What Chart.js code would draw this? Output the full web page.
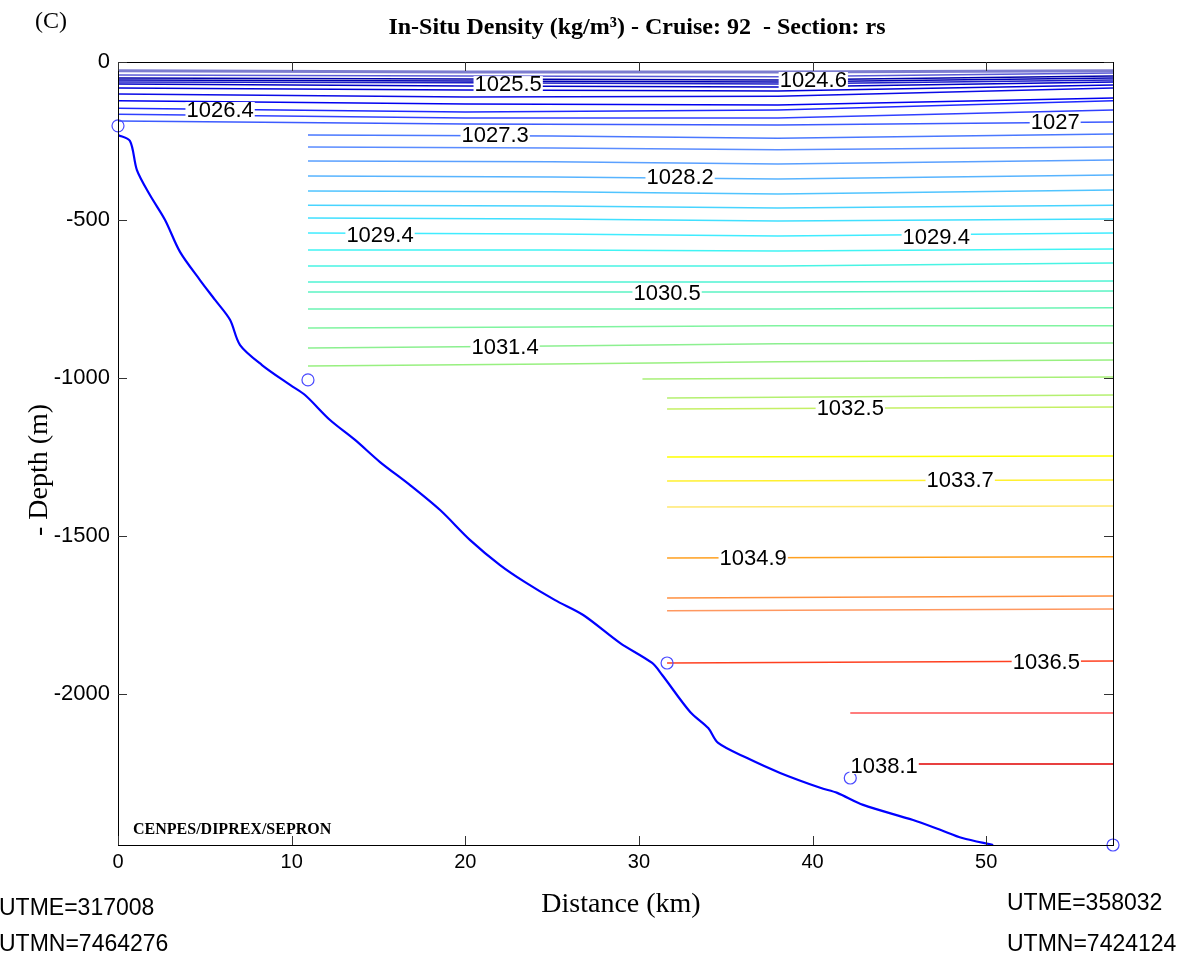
<!DOCTYPE html>
<html>
<head>
<meta charset="utf-8">
<script src="https://cdn.jsdelivr.net/npm/chart.js@4.4.1/dist/chart.umd.min.js"></script>
<style>
  html, body { margin: 0; padding: 0; background: #fff; }
  canvas { display: block; }
</style>
</head>
<body>
<canvas id="section" width="1196" height="959"></canvas>
<script>
// axis extents (km, m)
const xMax = 57.3;
const yMin = -2478;
const xTicks = [0, 10, 20, 30, 40, 50];
const yTicks = [0, -500, -1000, -1500, -2000];

// bathymetry profile (distance km, depth m)
const bottomX = [0, 0.69, 1.09, 1.84, 2.71, 3.57, 4.72, 5.59, 6.45, 7.03, 8.29, 9.91, 10.77, 12.21, 13.65, 15.09, 16.82, 18.55, 20.28, 22.0, 23.44, 25.17, 26.79, 28.92, 30.76, 31.34, 32.95, 33.99, 34.56, 36.23, 38.13, 40.44, 41.42, 42.91, 45.79, 47.35, 48.62, 50.4];
const bottomDepth = [-231, -250, -342, -421, -500, -601, -690, -753, -816, -896, -959, -1022, -1054, -1133, -1196, -1266, -1339, -1418, -1513, -1592, -1646, -1703, -1750, -1839, -1902, -1940, -2057, -2108, -2155, -2203, -2250, -2297, -2313, -2351, -2399, -2430, -2456, -2478];

// CTD stations
const stationX = [0, 10.94, 31.62, 42.17, 57.3];
const stationDepth = [-202, -1006, -1902, -2266, -2478];

// upper contours, full width
const topX = [0, 20, 38, 57.3];
const topDepths = [
    [-28, -32, -32, -28],
    [-41, -44, -47, -35],
    [-51, -54, -57, -44],
    [-57, -60, -63, -51],
    [-63, -66, -70, -57],
    [-70, -76, -79, -63],
    [-82, -89, -92, -73],
    [-101, -111, -108, -82],
    [-123, -133, -136, -114],
    [-146, -158, -152, -123],
    [-165, -177, -177, -152],
    [-187, -196, -199, -190]
];
const topColors = ['#7c7cd0', '#5a5ad8', '#0000a8', '#0000b4', '#1e1ec8', '#0000c8', '#0000d8', '#0a0ae6', '#0000f0', '#1e28ff', '#3040ff', '#3c5aff'];

// contours starting at station 2
const midX = [10.94, 25, 38, 57.3];
const midDepths = [
    [-231, -234, -241, -228],
    [-269, -272, -278, -269],
    [-313, -316, -323, -310],
    [-361, -364, -370, -358],
    [-408, -411, -418, -405],
    [-453, -456, -462, -453],
    [-494, -497, -503, -497],
    [-541, -544, -551, -541],
    [-595, -595, -598, -592],
    [-646, -646, -646, -636],
    [-696, -696, -696, -693],
    [-728, -728, -728, -725],
    [-782, -782, -782, -778],
    [-842, -839, -835, -835],
    [-905, -899, -892, -889],
    [-962, -956, -949, -943]
];
const midColors = ['#4a78ff', '#5a8cff', '#5aa0ff', '#58b4ff', '#50c4ff', '#48d4ff', '#40e0ff', '#40ecff', '#40f4f4', '#48f4e4', '#50f4d4', '#5cf4c4', '#6cf4b4', '#80f4a0', '#8cf090', '#98f080'];

// deep contours, from station 3 / 4 to the end
const deepStart = [30.2, 31.62, 31.62, 31.62, 31.62, 31.62, 31.62, 31.62, 31.62, 31.62, 42.17, 42.17];
const deepLeft = [-1003, -1063, -1098, -1250, -1326, -1408, -1570, -1696, -1737, -1902, -2060, -2222];
const deepRight = [-997, -1054, -1092, -1247, -1323, -1405, -1566, -1690, -1731, -1896, -2060, -2222];
const deepColors = ['#a8f078', '#b4f070', '#c4f064', '#ffff00', '#fff030', '#ffe870', '#ffa020', '#ff9040', '#ff9860', '#ff4020', '#ff5050', '#e00000'];

// contour labels
const labelText = ['1025.5', '1024.6', '1026.4', '1027.3', '1027', '1028.2', '1029.4', '1029.4', '1030.5', '1031.4', '1032.5', '1033.7', '1034.9', '1036.5', '1038.1'];
const labelX = [22.47, 40.04, 5.88, 21.72, 53.97, 32.37, 15.09, 47.12, 31.62, 22.29, 42.17, 48.5, 36.58, 53.46, 44.12];
const labelDepth = [-70, -57, -152, -231, -190, -364, -547, -554, -731, -902, -1095, -1323, -1570, -1899, -2228];

function contourSet(xs, depths, color, width) {
    return {
        data: xs.map((x, i) => ({ x: x, y: depths[i] })),
        borderColor: color,
        borderWidth: width,
        showLine: true,
        pointRadius: 0,
        tension: 0,
        order: 3
    };
}

const datasets = [];
topDepths.forEach((d, i) => datasets.push(contourSet(topX, d, topColors[i], i === 0 ? 3 : 1.5)));
midDepths.forEach((d, i) => datasets.push(contourSet(midX, d, midColors[i], 1.5)));
deepLeft.forEach((d, i) => datasets.push(contourSet([deepStart[i], xMax], [d, deepRight[i]], deepColors[i], 1.5)));

datasets.push({
    data: bottomX.map((x, i) => ({ x: x, y: bottomDepth[i] })),
    borderColor: '#0000ff',
    borderWidth: 2.2,
    showLine: true,
    pointRadius: 0,
    tension: 0.3,
    order: 1
});
datasets.push({
    data: stationX.map((x, i) => ({ x: x, y: stationDepth[i] })),
    showLine: false,
    pointRadius: 6,
    pointBorderWidth: 1.2,
    pointBorderColor: '#4a4aff',
    pointBackgroundColor: 'rgba(0,0,0,0)',
    clip: false,
    order: 0
});

const sans = '"Liberation Sans", Arial, sans-serif';
const serif = '"Liberation Serif", "Times New Roman", serif';

// contour labels sit on their line, with a white gap behind
const labelPlugin = {
    id: 'contourLabels',
    afterDatasetsDraw(chart) {
        const ctx = chart.ctx;
        const xs = chart.scales.x, ys = chart.scales.y;
        ctx.save();
        ctx.font = '22px ' + sans;
        ctx.textAlign = 'center';
        ctx.textBaseline = 'middle';
        labelText.forEach((t, i) => {
            const px = xs.getPixelForValue(labelX[i]);
            const py = ys.getPixelForValue(labelDepth[i]);
            const w = ctx.measureText(t).width;
            ctx.fillStyle = '#fff';
            ctx.fillRect(px - w / 2 - 1, py - 8, w + 2, 16);
            ctx.fillStyle = '#000';
            ctx.fillText(t, px, py + 1);
        });
        ctx.restore();
    }
};

const framePlugin = {
    id: 'frame',
    afterDraw(chart) {
        const ctx = chart.ctx;
        const a = chart.chartArea;
        const xs = chart.scales.x, ys = chart.scales.y;
        ctx.save();
        ctx.strokeStyle = '#000';
        ctx.lineWidth = 1;
        ctx.strokeRect(a.left + 0.5, a.top + 0.5, a.right - a.left, a.bottom - a.top);

        // inward tick marks, matlab style
        ctx.strokeStyle = '#333';
        ctx.beginPath();
        xs.ticks.forEach(t => {
            const px = Math.round(xs.getPixelForValue(t.value)) + 0.5;
            ctx.moveTo(px, a.top); ctx.lineTo(px, a.top + 9);
            ctx.moveTo(px, a.bottom); ctx.lineTo(px, a.bottom - 9);
        });
        ys.ticks.forEach(t => {
            const py = Math.round(ys.getPixelForValue(t.value)) + 0.5;
            ctx.moveTo(a.left, py); ctx.lineTo(a.left + 9, py);
            ctx.moveTo(a.right, py); ctx.lineTo(a.right - 9, py);
        });
        ctx.stroke();

        ctx.fillStyle = '#000';
        ctx.textBaseline = 'middle';
        ctx.textAlign = 'center';
        ctx.font = 'bold 24px ' + serif;
        ctx.fillText('In-Situ Density (kg/m\u00B3) - Cruise: 92  - Section: rs', 637, 28);

        ctx.textAlign = 'left';
        ctx.font = '24px ' + serif;
        ctx.fillText('(C)', 35, 22);

        ctx.font = 'bold 16px ' + serif;
        ctx.fillText('CENPES/DIPREX/SEPRON', 133, 830);

        ctx.textAlign = 'center';
        ctx.font = '28px ' + serif;
        ctx.fillText('Distance (km)', 621, 905);

        ctx.save();
        ctx.translate(40, 470);
        ctx.rotate(-Math.PI / 2);
        ctx.fillText('- Depth (m)', 0, 0);
        ctx.restore();

        ctx.textAlign = 'left';
        ctx.font = '23px ' + sans;
        ctx.fillText('UTME=317008', -1, 909);
        ctx.fillText('UTMN=7464276', -1, 945);
        ctx.fillText('UTME=358032', 1007, 904);
        ctx.fillText('UTMN=7424124', 1007, 945);
        ctx.restore();
    }
};

new Chart(document.getElementById('section'), {
    type: 'scatter',
    data: { datasets },
    options: {
        responsive: false,
        animation: false,
        devicePixelRatio: 1,
        layout: { padding: { left: 0, top: 62, right: 83, bottom: 0 } },
        plugins: {
            legend: { display: false },
            tooltip: { enabled: false },
            title: { display: false }
        },
        scales: {
            x: {
                type: 'linear',
                min: 0,
                max: xMax,
                grid: { display: false, drawTicks: false },
                border: { display: true, color: '#000' },
                afterBuildTicks: s => { s.ticks = xTicks.map(v => ({ value: v })); },
                ticks: {
                    padding: 5,
                    color: '#000',
                    font: { family: sans, size: 20 },
                    callback: v => String(v)
                },
                afterFit: s => { s.height = 114; }
            },
            y: {
                type: 'linear',
                min: yMin,
                max: 0,
                grid: { display: false, drawTicks: false },
                border: { display: true, color: '#000' },
                afterBuildTicks: s => { s.ticks = yTicks.map(v => ({ value: v })); },
                ticks: {
                    padding: 8,
                    color: '#000',
                    font: { family: sans, size: 22 },
                    callback: v => String(v)
                },
                afterFit: s => { s.width = 118; }
            }
        }
    },
    plugins: [labelPlugin, framePlugin]
});
</script>
</body>
</html>
